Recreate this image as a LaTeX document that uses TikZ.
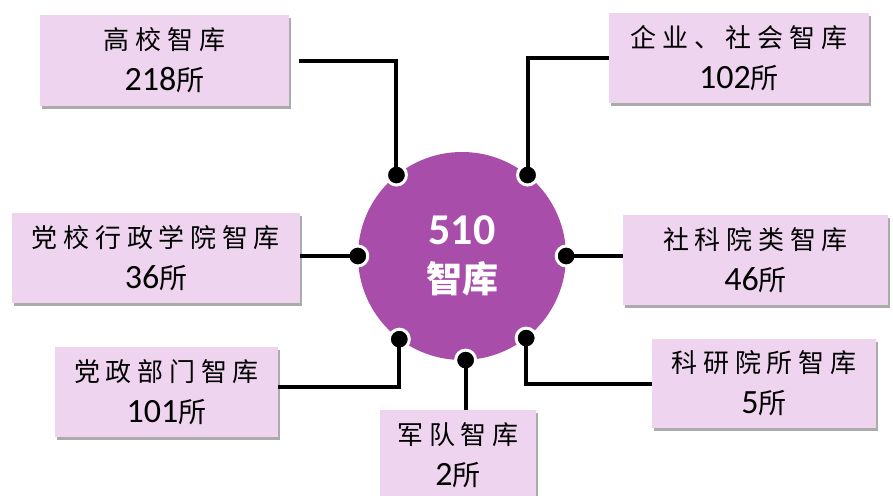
\documentclass[tikz,border=0pt]{standalone}
\usepackage{fontspec}
\setmainfont{Noto Sans CJK SC}
\newfontfamily\cjkls[LetterSpace=22]{Noto Sans CJK SC}
\newfontfamily\numf{Carlito}
\usetikzlibrary{shadows}
\definecolor{boxfill}{RGB}{239,212,240}
\definecolor{circfill}{RGB}{168,78,170}
\newcommand\lsp[1]{{\cjkls #1}\hspace{-5.7pt}}
\newcommand\nm[1]{{\numf\fontsize{34}{41}\selectfont #1}{\fontsize{28}{41}\selectfont 所}}
\tikzset{
  kbox/.style={rectangle, fill=boxfill, inner sep=0pt, align=center,
    drop shadow={shadow xshift=2pt, shadow yshift=-3pt, fill=black!55, opacity=0.6},
    font=\fontsize{26}{41}\selectfont},
  cdot/.style={circle, fill=black, draw=white, line width=3pt, inner sep=0pt, minimum size=20pt},
  link/.style={line width=4pt, draw=black},
}
\begin{document}
\begin{tikzpicture}[x=1pt,y=-1pt]
\fill[white] (0,0) rectangle (893,495);
\useasboundingbox (0,0) rectangle (893,495);
% centre
\node[circle, fill=circfill, minimum size=208pt, inner sep=0pt, align=center, text=white,
  font=\bfseries\fontsize{36}{48}\selectfont] (circ) at (462,256)
  {{\numf\fontsize{44}{48}\selectfont 510}\\智库};
% boxes
\node[kbox, minimum width=249pt, minimum height=91pt] (A) at (164.5,60.5) {\lsp{高校智库}\\\nm{218}};
\node[kbox, minimum width=260pt, minimum height=90pt] (B) at (739,58) {\lsp{企业、社会智库}\\\nm{102}};
\node[kbox, minimum width=288pt, minimum height=90pt] (C) at (156,258) {\lsp{党校行政学院智库}\\\nm{36}};
\node[kbox, minimum width=223pt, minimum height=90pt] (D) at (166.5,392) {\lsp{党政部门智库}\\\nm{101}};
\node[kbox, minimum width=156pt, minimum height=90pt] (E) at (458,455) {\lsp{军队智库}\\\nm{2}};
\node[kbox, minimum width=265pt, minimum height=90pt] (F) at (755.5,260) {\lsp{社科院类智库}\\\nm{46}};
\node[kbox, minimum width=224pt, minimum height=89pt] (G) at (764,383.5) {\lsp{科研院所智库}\\\nm{5}};
% dots
\node[cdot] (dA) at (circ.129) {};
\node[cdot] (dB) at (circ.51) {};
\node[cdot] (dC) at (circ.180) {};
\node[cdot] (dD) at (circ.233) {};
\node[cdot] (dE) at (circ.272) {};
\node[cdot] (dF) at (circ.0) {};
\node[cdot] (dG) at (circ.308) {};
% connectors
\draw[link, shorten <=10pt] (A.east) -| (dA.center);
\draw[link] (B.west) -| (dB.center);
\draw[link] (C.east |- dC.center) -- (dC.center);
\draw[link] ([yshift=5pt]D.east) -| (dD.center);
\draw[link] (dE.center) -- (dE.center |- E.north);
\draw[link] (dF.center) -- (dF.center -| F.west);
\draw[link] (dG.center) |- (G.west);
\end{tikzpicture}
\end{document}
